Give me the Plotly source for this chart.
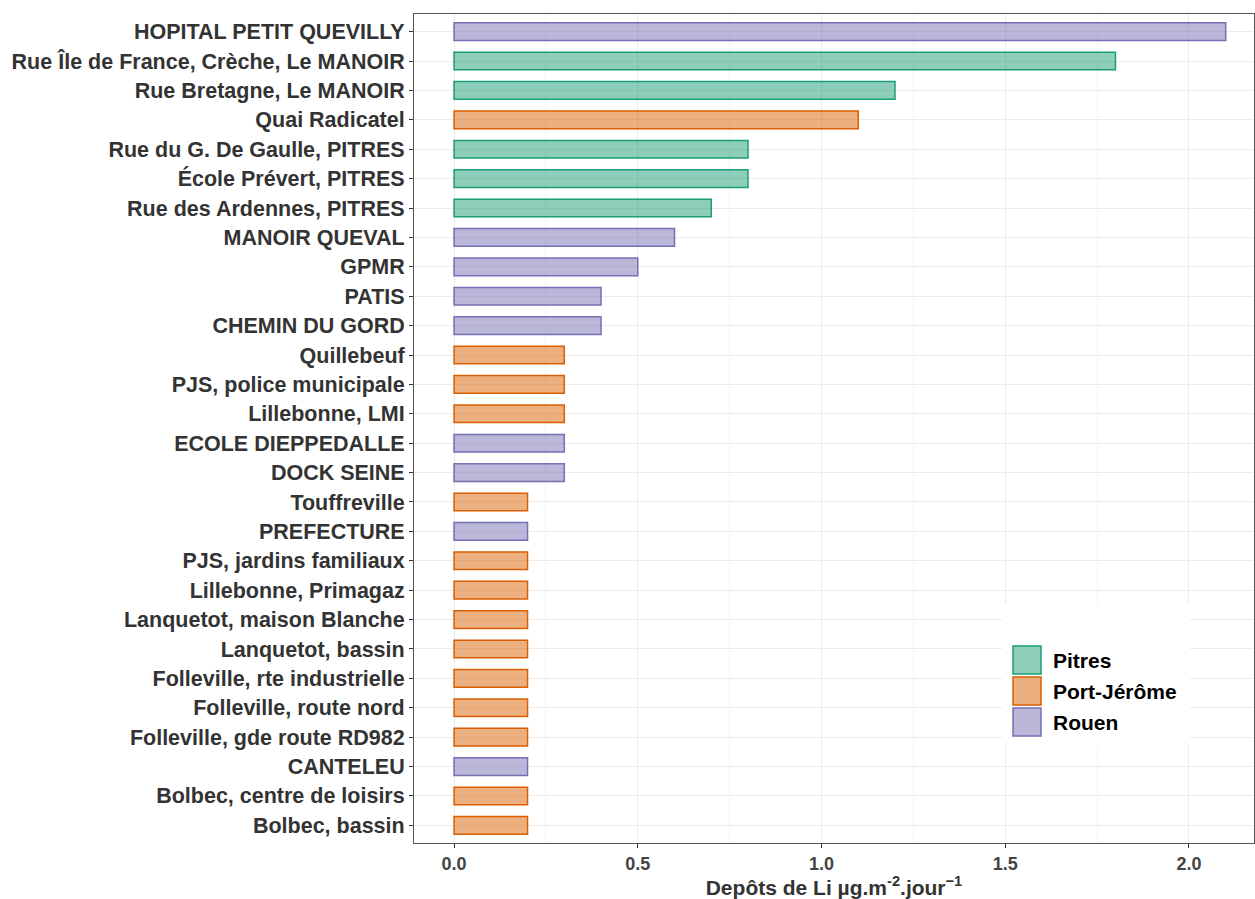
import plotly.graph_objects as go

# Sites, ordered from top to bottom of the chart
sites = [
    "HOPITAL PETIT QUEVILLY", "Rue Île de France, Crèche, Le MANOIR", "Rue Bretagne, Le MANOIR",
    "Quai Radicatel", "Rue du G. De Gaulle, PITRES", "École Prévert, PITRES",
    "Rue des Ardennes, PITRES", "MANOIR QUEVAL", "GPMR", "PATIS", "CHEMIN DU GORD",
    "Quillebeuf", "PJS, police municipale", "Lillebonne, LMI", "ECOLE DIEPPEDALLE",
    "DOCK SEINE", "Touffreville", "PREFECTURE", "PJS, jardins familiaux",
    "Lillebonne, Primagaz", "Lanquetot, maison Blanche", "Lanquetot, bassin",
    "Folleville, rte industrielle", "Folleville, route nord", "Folleville, gde route RD982",
    "CANTELEU", "Bolbec, centre de loisirs", "Bolbec, bassin",
]
values = [
    2.1, 1.8, 1.2, 1.1, 0.8, 0.8, 0.7, 0.6, 0.5, 0.4, 0.4,
    0.3, 0.3, 0.3, 0.3, 0.3, 0.2, 0.2, 0.2, 0.2, 0.2, 0.2,
    0.2, 0.2, 0.2, 0.2, 0.2, 0.2,
]
zones = [
    "Rouen", "Pitres", "Pitres", "Port-Jérôme", "Pitres", "Pitres", "Pitres",
    "Rouen", "Rouen", "Rouen", "Rouen", "Port-Jérôme", "Port-Jérôme", "Port-Jérôme",
    "Rouen", "Rouen", "Port-Jérôme", "Rouen", "Port-Jérôme", "Port-Jérôme",
    "Port-Jérôme", "Port-Jérôme", "Port-Jérôme", "Port-Jérôme", "Port-Jérôme",
    "Rouen", "Port-Jérôme", "Port-Jérôme",
]
zone_names = ["Pitres", "Port-Jérôme", "Rouen"]
zone_lines = {"Pitres": "#1B9E77", "Port-Jérôme": "#D95F02", "Rouen": "#7570B3"}
zone_fills = {"Pitres": "rgba(27,158,119,0.5)", "Port-Jérôme": "rgba(217,95,2,0.5)",
              "Rouen": "rgba(117,112,179,0.5)"}

FONT = "Liberation Sans, Arial"

fig = go.Figure()
for z in zone_names:
    ys = [s for s, zz in zip(sites, zones) if zz == z]
    xs = [v for v, zz in zip(values, zones) if zz == z]
    fig.add_trace(go.Bar(
        x=xs, y=ys, orientation="h", name=z, width=0.6,
        marker=dict(color=zone_fills[z], line=dict(color=zone_lines[z], width=1.5)),
        showlegend=False,
    ))

W, H = 1255, 899
L, T, R, B = 414, 14, 1, 56
pw, ph = W - L - R, H - T - B


def px(X):
    return (X - L) / pw


def py(Y):
    return 1 - (Y - T) / ph


# Legend drawn as shapes so the keys can be large squares
shapes = [dict(type="rect", xref="paper", yref="paper", x0=px(1002), x1=px(1190),
               y0=py(745), y1=py(604), fillcolor="white", line=dict(width=0), layer="above")]
annotations = []
for i, z in enumerate(zone_names):
    top = 645 + i * 31
    shapes.append(dict(type="rect", xref="paper", yref="paper",
                       x0=px(1013), x1=px(1041), y0=py(top + 29), y1=py(top + 1),
                       fillcolor=zone_fills[z], line=dict(color=zone_lines[z], width=1.5),
                       layer="above"))
    annotations.append(dict(xref="paper", yref="paper", x=px(1051), y=py(top + 15),
                            text=z, showarrow=False, xanchor="left", yanchor="middle",
                            font=dict(family=FONT, size=21, color="black", weight="bold")))

fig.update_layout(
    width=W, height=H,
    margin=dict(l=L, t=T, r=R, b=B),
    plot_bgcolor="white", paper_bgcolor="white",
    barmode="overlay",
    shapes=shapes, annotations=annotations,
    font=dict(family=FONT, color="#333333"),
)
fig.update_xaxes(
    range=[-0.109, 2.177], tickvals=[0, 0.5, 1.0, 1.5, 2.0], tickformat=".1f",
    tickfont=dict(size=18, color="#444444", weight="bold"),
    showgrid=True, gridcolor="#EBEBEB", gridwidth=1.2,
    minor=dict(tickvals=[0.25, 0.75, 1.25, 1.75], showgrid=True, gridcolor="#F3F3F3",
               gridwidth=0.8),
    ticks="outside", ticklen=4, tickcolor="#333333",
    showline=True, linecolor="#555555", linewidth=1, mirror=True, zeroline=False,
    title=dict(text="Depôts de Li µg.m<sup>-2</sup>.jour<sup>−1</sup>",
               font=dict(size=21, color="#333333", weight="bold"), standoff=5),
)
fig.update_yaxes(
    categoryorder="array", categoryarray=sites[::-1],
    range=[-0.6, len(sites) - 0.4],
    tickfont=dict(size=21.5, color="#333333", weight="bold"),
    ticks="outside", ticklen=4, tickcolor="#333333",
    showgrid=True, gridcolor="#EBEBEB", gridwidth=1.2,
    showline=True, linecolor="#555555", linewidth=1, mirror=True,
)

fig.write_html("out.html")
